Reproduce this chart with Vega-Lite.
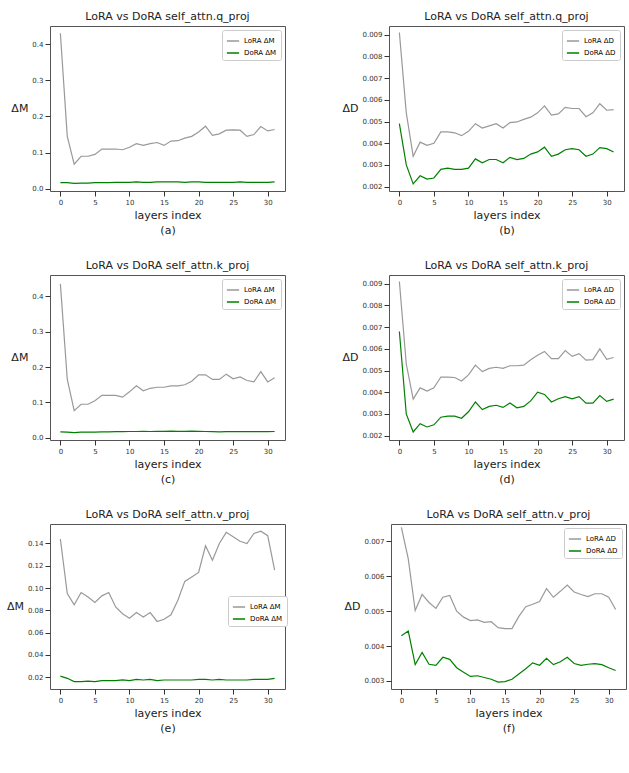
{
"$schema":"https://vega.github.io/schema/vega-lite/v6.json",
"background":"white",
"padding":{"left":5,"top":10,"right":5,"bottom":5},
"config":{"font":"DejaVu Sans","view":{"stroke":"#555","strokeWidth":1},
"title":{"fontSize":11,"fontWeight":"normal","color":"#222","offset":4},
"axis":{"grid":false,"labelFontSize":7,"labelColor":"#333","tickColor":"#333","domain":false,"titleFontWeight":"normal","titleFontSize":11,"titleColor":"#222"},
"legend":{"labelFontSize":7,"symbolType":"stroke","symbolStrokeWidth":1.5,"symbolSize":150,"fillColor":"white","strokeColor":"#ccc","padding":4,"rowPadding":2,"cornerRadius":2,"offset":4}},
"datasets":{
"a":[{"l":0,"L":0.43,"D":0.017},{"l":1,"L":0.145,"D":0.017},{"l":2,"L":0.068,"D":0.015},{"l":3,"L":0.09,"D":0.016},{"l":4,"L":0.09,"D":0.016},{"l":5,"L":0.095,"D":0.017},{"l":6,"L":0.11,"D":0.017},{"l":7,"L":0.11,"D":0.017},{"l":8,"L":0.11,"D":0.018},{"l":9,"L":0.108,"D":0.018},{"l":10,"L":0.115,"D":0.018},{"l":11,"L":0.125,"D":0.019},{"l":12,"L":0.12,"D":0.018},{"l":13,"L":0.125,"D":0.018},{"l":14,"L":0.128,"D":0.019},{"l":15,"L":0.12,"D":0.019},{"l":16,"L":0.132,"D":0.019},{"l":17,"L":0.133,"D":0.019},{"l":18,"L":0.14,"D":0.018},{"l":19,"L":0.145,"D":0.019},{"l":20,"L":0.157,"D":0.019},{"l":21,"L":0.173,"D":0.018},{"l":22,"L":0.148,"D":0.018},{"l":23,"L":0.152,"D":0.018},{"l":24,"L":0.162,"D":0.018},{"l":25,"L":0.163,"D":0.018},{"l":26,"L":0.162,"D":0.019},{"l":27,"L":0.145,"D":0.018},{"l":28,"L":0.15,"D":0.018},{"l":29,"L":0.172,"D":0.018},{"l":30,"L":0.16,"D":0.018},{"l":31,"L":0.164,"D":0.019}],
"b":[{"l":0,"L":0.0091,"D":0.0049},{"l":1,"L":0.0054,"D":0.003},{"l":2,"L":0.0034,"D":0.00213},{"l":3,"L":0.00405,"D":0.0025},{"l":4,"L":0.0039,"D":0.00235},{"l":5,"L":0.004,"D":0.0024},{"l":6,"L":0.00452,"D":0.0028},{"l":7,"L":0.00452,"D":0.00285},{"l":8,"L":0.00448,"D":0.0028},{"l":9,"L":0.00435,"D":0.0028},{"l":10,"L":0.00455,"D":0.00285},{"l":11,"L":0.0049,"D":0.00328},{"l":12,"L":0.0047,"D":0.0031},{"l":13,"L":0.0048,"D":0.00325},{"l":14,"L":0.0049,"D":0.00325},{"l":15,"L":0.0047,"D":0.0031},{"l":16,"L":0.00495,"D":0.00335},{"l":17,"L":0.00498,"D":0.00325},{"l":18,"L":0.0051,"D":0.0033},{"l":19,"L":0.0052,"D":0.0035},{"l":20,"L":0.0054,"D":0.0036},{"l":21,"L":0.00572,"D":0.00382},{"l":22,"L":0.0053,"D":0.0034},{"l":23,"L":0.00535,"D":0.0035},{"l":24,"L":0.00565,"D":0.0037},{"l":25,"L":0.0056,"D":0.00375},{"l":26,"L":0.0056,"D":0.0037},{"l":27,"L":0.00522,"D":0.0034},{"l":28,"L":0.0054,"D":0.0035},{"l":29,"L":0.00582,"D":0.0038},{"l":30,"L":0.00552,"D":0.00375},{"l":31,"L":0.00555,"D":0.0036}],
"c":[{"l":0,"L":0.435,"D":0.017},{"l":1,"L":0.165,"D":0.0165},{"l":2,"L":0.077,"D":0.015},{"l":3,"L":0.095,"D":0.016},{"l":4,"L":0.095,"D":0.016},{"l":5,"L":0.105,"D":0.0165},{"l":6,"L":0.12,"D":0.017},{"l":7,"L":0.12,"D":0.017},{"l":8,"L":0.12,"D":0.0175},{"l":9,"L":0.115,"D":0.0175},{"l":10,"L":0.13,"D":0.018},{"l":11,"L":0.147,"D":0.018},{"l":12,"L":0.133,"D":0.0185},{"l":13,"L":0.14,"D":0.018},{"l":14,"L":0.143,"D":0.0185},{"l":15,"L":0.143,"D":0.0185},{"l":16,"L":0.147,"D":0.019},{"l":17,"L":0.147,"D":0.0185},{"l":18,"L":0.15,"D":0.0185},{"l":19,"L":0.16,"D":0.019},{"l":20,"L":0.178,"D":0.0185},{"l":21,"L":0.178,"D":0.018},{"l":22,"L":0.165,"D":0.0175},{"l":23,"L":0.165,"D":0.017},{"l":24,"L":0.18,"D":0.0175},{"l":25,"L":0.167,"D":0.0175},{"l":26,"L":0.172,"D":0.018},{"l":27,"L":0.162,"D":0.0175},{"l":28,"L":0.158,"D":0.0175},{"l":29,"L":0.187,"D":0.0175},{"l":30,"L":0.158,"D":0.0175},{"l":31,"L":0.17,"D":0.018}],
"d":[{"l":0,"L":0.0091,"D":0.0068},{"l":1,"L":0.0053,"D":0.003},{"l":2,"L":0.00368,"D":0.00217},{"l":3,"L":0.0042,"D":0.00255},{"l":4,"L":0.00405,"D":0.0024},{"l":5,"L":0.0042,"D":0.0025},{"l":6,"L":0.0047,"D":0.00285},{"l":7,"L":0.0047,"D":0.0029},{"l":8,"L":0.00468,"D":0.0029},{"l":9,"L":0.00452,"D":0.0028},{"l":10,"L":0.0048,"D":0.0031},{"l":11,"L":0.00525,"D":0.00355},{"l":12,"L":0.00495,"D":0.0032},{"l":13,"L":0.0051,"D":0.00335},{"l":14,"L":0.00515,"D":0.0034},{"l":15,"L":0.0051,"D":0.0033},{"l":16,"L":0.00522,"D":0.0035},{"l":17,"L":0.00522,"D":0.00328},{"l":18,"L":0.00525,"D":0.00335},{"l":19,"L":0.0055,"D":0.0036},{"l":20,"L":0.0057,"D":0.004},{"l":21,"L":0.00588,"D":0.0039},{"l":22,"L":0.00555,"D":0.00355},{"l":23,"L":0.00555,"D":0.0037},{"l":24,"L":0.00592,"D":0.0038},{"l":25,"L":0.00565,"D":0.0037},{"l":26,"L":0.00578,"D":0.0038},{"l":27,"L":0.00548,"D":0.0035},{"l":28,"L":0.0055,"D":0.0035},{"l":29,"L":0.006,"D":0.00385},{"l":30,"L":0.00552,"D":0.00358},{"l":31,"L":0.0056,"D":0.00368}],
"e":[{"l":0,"L":0.144,"D":0.021},{"l":1,"L":0.095,"D":0.019},{"l":2,"L":0.085,"D":0.016},{"l":3,"L":0.096,"D":0.016},{"l":4,"L":0.092,"D":0.0165},{"l":5,"L":0.087,"D":0.016},{"l":6,"L":0.093,"D":0.017},{"l":7,"L":0.096,"D":0.017},{"l":8,"L":0.083,"D":0.017},{"l":9,"L":0.077,"D":0.0175},{"l":10,"L":0.073,"D":0.017},{"l":11,"L":0.078,"D":0.018},{"l":12,"L":0.074,"D":0.0175},{"l":13,"L":0.078,"D":0.018},{"l":14,"L":0.07,"D":0.017},{"l":15,"L":0.072,"D":0.0175},{"l":16,"L":0.076,"D":0.0175},{"l":17,"L":0.089,"D":0.0175},{"l":18,"L":0.106,"D":0.0175},{"l":19,"L":0.11,"D":0.0175},{"l":20,"L":0.114,"D":0.018},{"l":21,"L":0.138,"D":0.018},{"l":22,"L":0.125,"D":0.0175},{"l":23,"L":0.14,"D":0.018},{"l":24,"L":0.15,"D":0.0175},{"l":25,"L":0.146,"D":0.0175},{"l":26,"L":0.142,"D":0.0175},{"l":27,"L":0.14,"D":0.0175},{"l":28,"L":0.149,"D":0.018},{"l":29,"L":0.151,"D":0.018},{"l":30,"L":0.147,"D":0.018},{"l":31,"L":0.116,"D":0.019}],
"f":[{"l":0,"L":0.0074,"D":0.0043},{"l":1,"L":0.0065,"D":0.00443},{"l":2,"L":0.00502,"D":0.00347},{"l":3,"L":0.00548,"D":0.00382},{"l":4,"L":0.00525,"D":0.00348},{"l":5,"L":0.00508,"D":0.00345},{"l":6,"L":0.0054,"D":0.00368},{"l":7,"L":0.00545,"D":0.00362},{"l":8,"L":0.005,"D":0.00338},{"l":9,"L":0.00483,"D":0.00325},{"l":10,"L":0.00473,"D":0.00313},{"l":11,"L":0.00475,"D":0.00315},{"l":12,"L":0.00468,"D":0.0031},{"l":13,"L":0.0047,"D":0.00305},{"l":14,"L":0.00453,"D":0.00297},{"l":15,"L":0.0045,"D":0.00298},{"l":16,"L":0.0045,"D":0.00305},{"l":17,"L":0.00485,"D":0.0032},{"l":18,"L":0.00513,"D":0.00335},{"l":19,"L":0.0052,"D":0.00352},{"l":20,"L":0.00528,"D":0.00345},{"l":21,"L":0.00565,"D":0.00365},{"l":22,"L":0.0054,"D":0.00347},{"l":23,"L":0.00557,"D":0.00355},{"l":24,"L":0.00575,"D":0.00368},{"l":25,"L":0.00555,"D":0.0035},{"l":26,"L":0.00548,"D":0.00345},{"l":27,"L":0.00542,"D":0.00348},{"l":28,"L":0.0055,"D":0.0035},{"l":29,"L":0.0055,"D":0.00347},{"l":30,"L":0.0054,"D":0.00338},{"l":31,"L":0.00505,"D":0.0033}]
},
"resolve":{"scale":{"y":"independent","color":"independent"}},
"vconcat":[
{"resolve":{"scale":{"y":"independent","color":"independent"}},"spacing":55,"hconcat":[
{"title":"LoRA vs DoRA self_attn.q_proj","width":235,"height":165,"data":{"name":"a"},"transform":[{"fold":["L","D"],"as":["s","v"]}],"mark":{"type":"line","strokeWidth":1.2},
"encoding":{"x":{"field":"l","type":"quantitative","scale":{"domain":[-1.5,32.5],"nice":false},"axis":{"values":[0,5,10,15,20,25,30],"title":["layers index","","(a)"],"titleLineHeight":15}},
"y":{"field":"v","type":"quantitative","scale":{"domain":[-0.006,0.45],"nice":false},"axis":{"values":[0,0.1,0.2,0.3,0.4],"format":".1f","title":"ΔM","titleAngle":0,"titleAlign":"right","titleBaseline":"middle"}},
"color":{"field":"s","type":"nominal","scale":{"domain":["L","D"],"range":["#999999","#008000"]},"legend":{"title":null,"orient":"top-right","labelExpr":"datum.label=='L'?'LoRA ΔM':'DoRA ΔM'"}}}},
{"title":"LoRA vs DoRA self_attn.q_proj","width":235,"height":165,"data":{"name":"b"},"transform":[{"fold":["L","D"],"as":["s","v"]}],"mark":{"type":"line","strokeWidth":1.2},
"encoding":{"x":{"field":"l","type":"quantitative","scale":{"domain":[-1.5,32.5],"nice":false},"axis":{"values":[0,5,10,15,20,25,30],"title":["layers index","","(b)"],"titleLineHeight":15}},
"y":{"field":"v","type":"quantitative","scale":{"domain":[0.0018,0.0094],"nice":false},"axis":{"values":[0.002,0.003,0.004,0.005,0.006,0.007,0.008,0.009],"format":".3f","title":"ΔD","titleAngle":0,"titleAlign":"right","titleBaseline":"middle"}},
"color":{"field":"s","type":"nominal","scale":{"domain":["L","D"],"range":["#999999","#008000"]},"legend":{"title":null,"orient":"top-right","labelExpr":"datum.label=='L'?'LoRA ΔD':'DoRA ΔD'"}}}}
]},
{"resolve":{"scale":{"y":"independent","color":"independent"}},"spacing":55,"hconcat":[
{"title":"LoRA vs DoRA self_attn.k_proj","width":235,"height":165,"data":{"name":"c"},"transform":[{"fold":["L","D"],"as":["s","v"]}],"mark":{"type":"line","strokeWidth":1.2},
"encoding":{"x":{"field":"l","type":"quantitative","scale":{"domain":[-1.5,32.5],"nice":false},"axis":{"values":[0,5,10,15,20,25,30],"title":["layers index","","(c)"],"titleLineHeight":15}},
"y":{"field":"v","type":"quantitative","scale":{"domain":[-0.006,0.46],"nice":false},"axis":{"values":[0,0.1,0.2,0.3,0.4],"format":".1f","title":"ΔM","titleAngle":0,"titleAlign":"right","titleBaseline":"middle"}},
"color":{"field":"s","type":"nominal","scale":{"domain":["L","D"],"range":["#999999","#008000"]},"legend":{"title":null,"orient":"top-right","labelExpr":"datum.label=='L'?'LoRA ΔM':'DoRA ΔM'"}}}},
{"title":"LoRA vs DoRA self_attn.k_proj","width":235,"height":165,"data":{"name":"d"},"transform":[{"fold":["L","D"],"as":["s","v"]}],"mark":{"type":"line","strokeWidth":1.2},
"encoding":{"x":{"field":"l","type":"quantitative","scale":{"domain":[-1.5,32.5],"nice":false},"axis":{"values":[0,5,10,15,20,25,30],"title":["layers index","","(d)"],"titleLineHeight":15}},
"y":{"field":"v","type":"quantitative","scale":{"domain":[0.0018,0.0094],"nice":false},"axis":{"values":[0.002,0.003,0.004,0.005,0.006,0.007,0.008,0.009],"format":".3f","title":"ΔD","titleAngle":0,"titleAlign":"right","titleBaseline":"middle"}},
"color":{"field":"s","type":"nominal","scale":{"domain":["L","D"],"range":["#999999","#008000"]},"legend":{"title":null,"orient":"top-right","labelExpr":"datum.label=='L'?'LoRA ΔD':'DoRA ΔD'"}}}}
]},
{"resolve":{"scale":{"y":"independent","color":"independent"}},"spacing":55,"hconcat":[
{"title":"LoRA vs DoRA self_attn.v_proj","width":235,"height":165,"data":{"name":"e"},"transform":[{"fold":["L","D"],"as":["s","v"]}],"mark":{"type":"line","strokeWidth":1.2},
"encoding":{"x":{"field":"l","type":"quantitative","scale":{"domain":[-1.5,32.5],"nice":false},"axis":{"values":[0,5,10,15,20,25,30],"title":["layers index","","(e)"],"titleLineHeight":15}},
"y":{"field":"v","type":"quantitative","scale":{"domain":[0.0094,0.1575],"nice":false},"axis":{"values":[0.02,0.04,0.06,0.08,0.1,0.12,0.14],"format":".2f","title":"ΔM","titleAngle":0,"titleAlign":"right","titleBaseline":"middle"}},
"color":{"field":"s","type":"nominal","scale":{"domain":["L","D"],"range":["#999999","#008000"]},"legend":{"title":null,"orient":"none","legendX":178,"legendY":72,"labelExpr":"datum.label=='L'?'LoRA ΔM':'DoRA ΔM'"}}}},
{"title":"LoRA vs DoRA self_attn.v_proj","width":235,"height":165,"data":{"name":"f"},"transform":[{"fold":["L","D"],"as":["s","v"]}],"mark":{"type":"line","strokeWidth":1.2},
"encoding":{"x":{"field":"l","type":"quantitative","scale":{"domain":[-1.5,32.5],"nice":false},"axis":{"values":[0,5,10,15,20,25,30],"title":["layers index","","(f)"],"titleLineHeight":15}},
"y":{"field":"v","type":"quantitative","scale":{"domain":[0.00277,0.0075],"nice":false},"axis":{"values":[0.003,0.004,0.005,0.006,0.007],"format":".3f","title":"ΔD","titleAngle":0,"titleAlign":"right","titleBaseline":"middle"}},
"color":{"field":"s","type":"nominal","scale":{"domain":["L","D"],"range":["#999999","#008000"]},"legend":{"title":null,"orient":"top-right","labelExpr":"datum.label=='L'?'LoRA ΔD':'DoRA ΔD'"}}}}
]}
],
"spacing":8
}
